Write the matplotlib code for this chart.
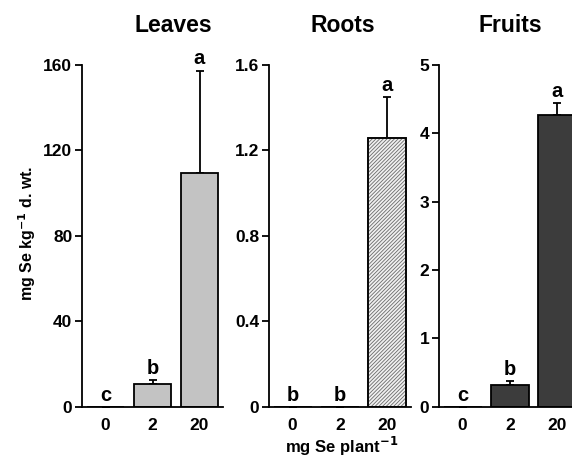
import matplotlib
matplotlib.use("Agg")
import matplotlib.pyplot as plt

plt.rcParams['font.family'] = ['Liberation Sans', 'DejaVu Sans']
plt.rcParams['font.weight'] = 'bold'
plt.rcParams['hatch.linewidth'] = 0.6

categories = ["0", "2", "20"]
panels = ["Leaves", "Roots", "Fruits"]

leaves_mean = [0.0, 10.5, 109.4]
leaves_err = [0.0, 2.0, 48.0]
leaves_letters = ["c", "b", "a"]

roots_mean = [0.0, 0.0, 1.26]
roots_err = [0.0, 0.0, 0.19]
roots_letters = ["b", "b", "a"]

fruits_mean = [0.0, 0.32, 4.27]
fruits_err = [0.0, 0.05, 0.18]
fruits_letters = ["c", "b", "a"]

yticks_leaves = [0, 40, 80, 120, 160]
yticks_roots = [0, 0.4, 0.8, 1.2, 1.6]
ytick_labels_roots = ["0", "0.4", "0.8", "1.2", "1.6"]
yticks_fruits = [0, 1, 2, 3, 4, 5]

fig = plt.figure(figsize=(5.72, 4.59), dpi=100)

W = 572.0
H = 459.0
bottom = (H - 406.7) / H
height = (406.7 - 65) / H

specs = [
    (82, 141, leaves_mean, leaves_err, leaves_letters, yticks_leaves, None,
     dict(color="#c3c3c3", edgecolor="black")),
    (269, 142, roots_mean, roots_err, roots_letters, yticks_roots, ytick_labels_roots,
     dict(color="#f0f0f0", edgecolor="black", hatch="/////////")),
    (439, 142, fruits_mean, fruits_err, fruits_letters, yticks_fruits, None,
     dict(color="#3c3c3c", edgecolor="black")),
]

x = list(range(len(categories)))
for left_px, w_px, mean, err, letters, yt, ytl, style in specs:
    ax = fig.add_axes([left_px / W, bottom, w_px / W, height])
    bars = ax.bar(x, mean, width=0.8, linewidth=1.3, zorder=2, **style)
    if style.get("hatch"):
        for b in bars:
            b.set_edgecolor("#6a6a6a")
        ax.bar(x, mean, width=0.8, linewidth=1.3, fill=False, edgecolor="black", zorder=3)
    ax.errorbar(x, mean, yerr=[[0] * len(err), err], fmt="none", ecolor="black",
                elinewidth=1.3, capsize=3, capthick=1.3, zorder=1)
    for xi, m, e, lab in zip(x, mean, err, letters):
        ax.annotate(lab, (xi, m + e), xytext=(0, 1.5), textcoords="offset points",
                    ha="center", va="bottom", fontsize=14.5, fontweight="bold")
    ax.set_xlim(-0.5, 2.5)
    ax.set_ylim(0, yt[-1])
    ax.set_yticks(yt)
    if ytl is not None:
        ax.set_yticklabels(ytl)
    ax.set_xticks(x)
    ax.set_xticklabels(categories)
    ax.spines["top"].set_visible(False)
    ax.spines["right"].set_visible(False)
    ax.spines["left"].set_linewidth(1.3)
    ax.spines["bottom"].set_linewidth(1.3)
    ax.tick_params(axis="y", length=5, width=1.3, pad=2, labelsize=12.5)
    ax.tick_params(axis="x", length=0, pad=8, labelsize=12.5)
    for t in ax.get_xticklabels() + ax.get_yticklabels():
        t.set_fontweight("bold")

title_pos = [(173, 25), (342.7, 25), (510, 25)]
for name, (px, py) in zip(panels, title_pos):
    fig.text(px / W, 1 - py / H, name, ha="center", va="center",
             fontsize=16.5, fontweight="bold")

fig.text(27 / W, 1 - 233 / H, "mg Se kg$^{\\mathbf{-1}}$ d. wt.", rotation=90,
         ha="center", va="center", fontsize=11.5, fontweight="bold")
fig.text(341.7 / W, 1.5 / H, "mg Se plant$^{\\mathbf{-1}}$", ha="center",
         va="bottom", fontsize=12, fontweight="bold")

fig.savefig("out.png", dpi=100)
